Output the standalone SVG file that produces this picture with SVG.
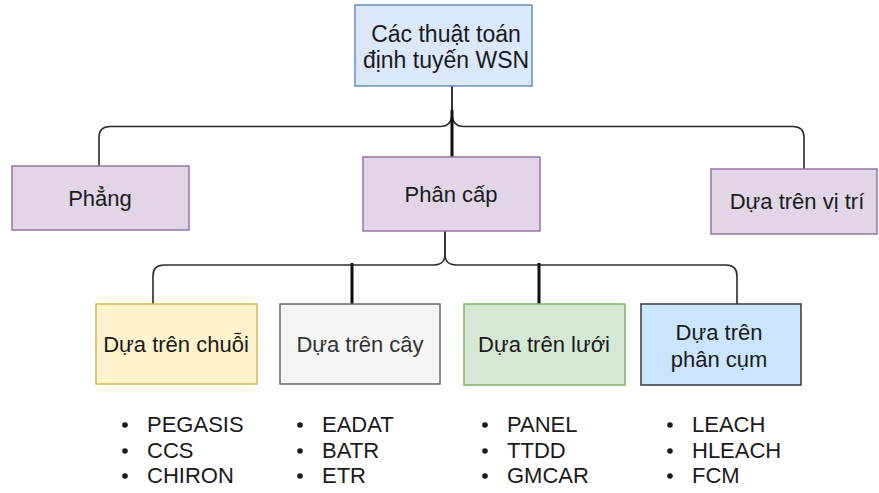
<svg xmlns="http://www.w3.org/2000/svg" width="879" height="493" viewBox="0 0 879 493">
  <style>
    text { font-family: "Liberation Sans", Arial, sans-serif; font-size: 22px; fill: #1a1a1a; }
    .c { text-anchor: middle; }
    .big { font-size: 23px; }
    .box { stroke-width: 1.5; }
    .blue { fill: #dae8fc; stroke: #6c8ebf; }
    .purple { fill: #e1d5e7; stroke: #9673a6; }
    .yellow { fill: #fff2cc; stroke: #d6b656; }
    .grey { fill: #f5f5f5; stroke: #666666; }
    .green { fill: #d5e8d4; stroke: #82b366; }
    .sky { fill: #cce5ff; stroke: #36393d; }
    .edge { fill: none; stroke: #2b2b2b; stroke-width: 1.6; }
    .thick { fill: none; stroke: #111111; stroke-width: 3; }
    .dot { fill: #1a1a1a; }
    .muted { fill: #333333; }
  </style>

  <!-- connectors -->
  <g id="connectors">
    <path class="edge" d="M452,86 V113 C452,122 448,126.5 440,126.5 H110 Q99,126.5 99,137.5 V166"/>
    <path class="edge" d="M452,86 V113 C452,122 456,126.5 464,126.5 H793 Q804,126.5 804,137.5 V169"/>
    <path class="thick" d="M452,110 V158"/>
    <path class="edge" d="M445,231 V255 C445,261 441,265 434,265 H164 Q153,265 153,276 V304"/>
    <path class="edge" d="M445,231 V255 C445,261 449,265 456,265 H726 Q737,265 737,276 V304"/>
    <path class="thick" d="M352,263 V312"/>
    <path class="thick" d="M539,263 V311"/>
  </g>

  <!-- root -->
  <g id="node-root">
    <rect class="box blue" x="355" y="5" width="177" height="81"/>
    <text class="c big" x="446" y="42">Các thuật toán</text>
    <text class="c big" x="446" y="68">định tuyến WSN</text>
  </g>

  <!-- second level -->
  <g id="node-flat">
    <rect class="box purple" x="12" y="166" width="177" height="64"/>
    <text class="c" x="100" y="206">Phẳng</text>
  </g>
  <g id="node-hierarchical">
    <rect class="box purple" x="363" y="157" width="177" height="74"/>
    <text class="c" x="451" y="202">Phân cấp</text>
  </g>
  <g id="node-location">
    <rect class="box purple" x="711" y="169" width="166" height="65"/>
    <text class="c" x="797" y="209">Dựa trên vị trí</text>
  </g>

  <!-- third level -->
  <g id="node-chain">
    <rect class="box yellow" x="96" y="304" width="161" height="80"/>
    <text class="c" x="176" y="352">Dựa trên chuỗi</text>
  </g>
  <g id="node-tree">
    <rect class="box grey" x="280" y="304" width="160" height="80"/>
    <text class="c muted" x="360" y="352">Dựa trên cây</text>
  </g>
  <g id="node-grid">
    <rect class="box green" x="464" y="304" width="161" height="81"/>
    <text class="c" x="544" y="352">Dựa trên lưới</text>
  </g>
  <g id="node-cluster">
    <rect class="box sky" x="641" y="304" width="160" height="81"/>
    <text class="c" x="719" y="340">Dựa trên</text>
    <text class="c" x="719" y="367">phân cụm</text>
  </g>

  <!-- protocol lists -->
  <g id="list-chain">
    <circle class="dot" cx="125" cy="425" r="2.8"/>
    <circle class="dot" cx="125" cy="451" r="2.8"/>
    <circle class="dot" cx="125" cy="476" r="2.8"/>
    <text x="147" y="432">PEGASIS</text>
    <text x="147" y="458">CCS</text>
    <text x="147" y="483">CHIRON</text>
  </g>
  <g id="list-tree">
    <circle class="dot" cx="300" cy="425" r="2.8"/>
    <circle class="dot" cx="300" cy="451" r="2.8"/>
    <circle class="dot" cx="300" cy="476" r="2.8"/>
    <text x="322" y="432">EADAT</text>
    <text x="322" y="458">BATR</text>
    <text x="322" y="483">ETR</text>
  </g>
  <g id="list-grid">
    <circle class="dot" cx="485" cy="425" r="2.8"/>
    <circle class="dot" cx="485" cy="451" r="2.8"/>
    <circle class="dot" cx="485" cy="476" r="2.8"/>
    <text x="507" y="432">PANEL</text>
    <text x="507" y="458">TTDD</text>
    <text x="507" y="483">GMCAR</text>
  </g>
  <g id="list-cluster">
    <circle class="dot" cx="670" cy="425" r="2.8"/>
    <circle class="dot" cx="670" cy="451" r="2.8"/>
    <circle class="dot" cx="670" cy="476" r="2.8"/>
    <text x="692" y="432">LEACH</text>
    <text x="692" y="458">HLEACH</text>
    <text x="692" y="483">FCM</text>
  </g>
</svg>
